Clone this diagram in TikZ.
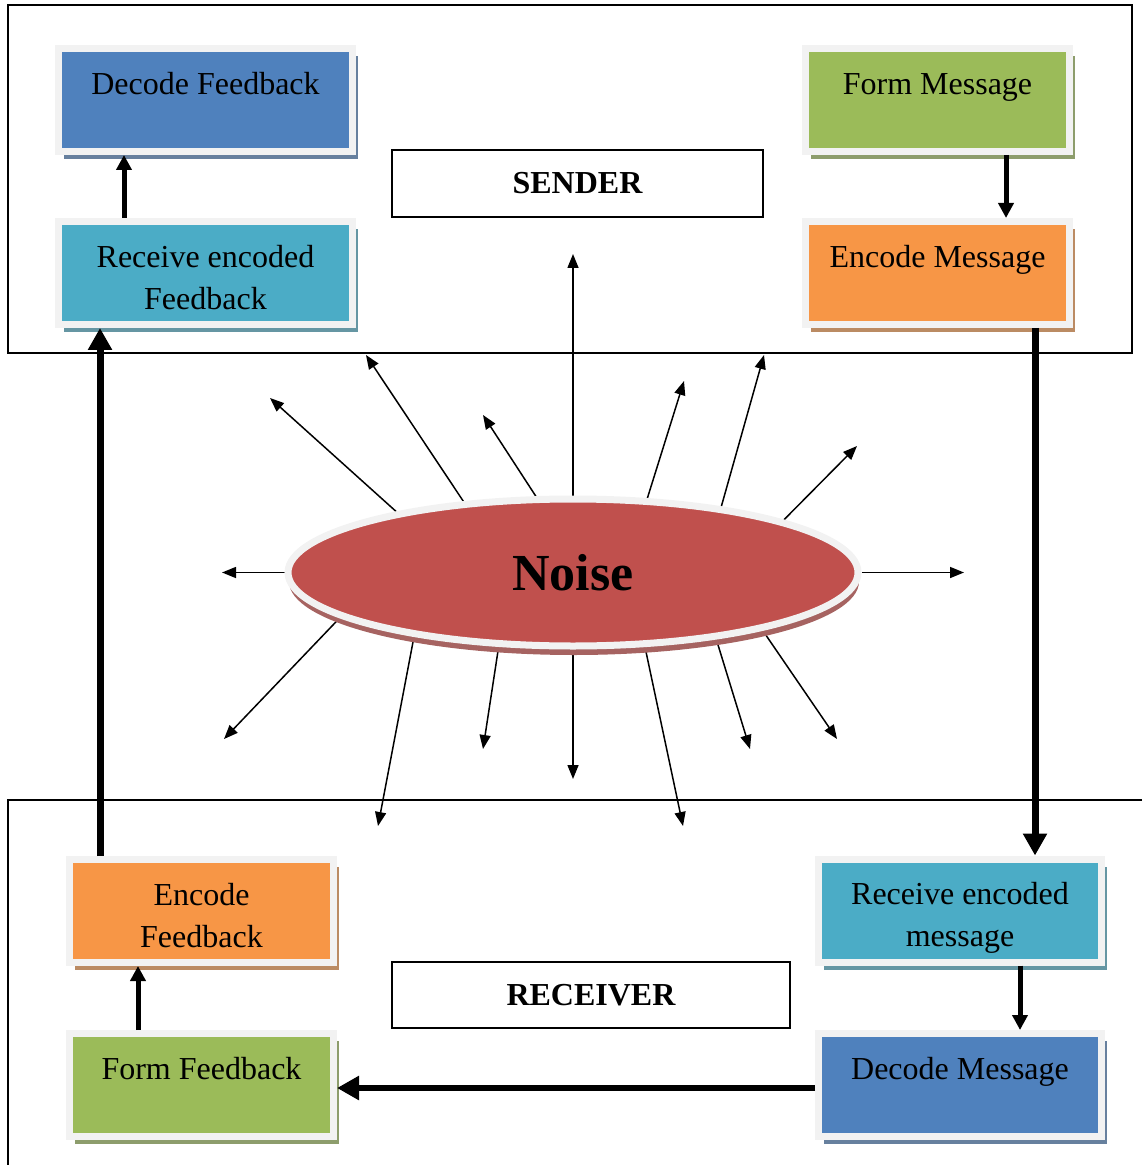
\documentclass[tikz,border=0pt]{standalone}
\usepackage{fontspec}
\setmainfont{Liberation Serif}
\usetikzlibrary{arrows.meta, positioning, shapes.geometric, shadows, backgrounds}
\definecolor{fbblue}{HTML}{4F81BD}
\definecolor{fbteal}{HTML}{4BACC6}
\definecolor{fbgreen}{HTML}{9BBB59}
\definecolor{fborange}{HTML}{F79646}
\definecolor{fbred}{HTML}{C0504D}
\definecolor{ringgray}{HTML}{F2F2F2}
\newcommand{\topstrut}{\rule{0pt}{21.7pt}}
\tikzset{
    stage/.style={rectangle, draw=ringgray, line width=3.5pt, fill=#1, inner sep=0pt,
        minimum height=51.5pt, align=center, font=\fontsize{16}{21}\selectfont,
        drop shadow={shadow xshift=2.75pt, shadow yshift=-3.75pt, fill=#1!50!gray, opacity=1}},
    side/.style={rectangle, draw, line width=1pt, inner sep=0pt,
        font=\fontsize{16}{20}\selectfont\bfseries},
    noise/.style={ellipse, draw=ringgray, line width=3.5pt, fill=fbred, inner sep=0pt,
        minimum width=285pt, minimum height=73.5pt, font=\fontsize{26}{30}\selectfont\bfseries,
        drop shadow={shadow xshift=0.5pt, shadow yshift=-4.5pt, fill=fbred!60!gray, opacity=1}},
    frame/.style={line width=1pt},
    noisy/.style={-{Triangle[length=7pt,width=5.5pt]}, line width=0.75pt},
    flow/.style={-{Triangle[length=7.5pt,width=7.5pt]}, line width=2.5pt},
    mainflow/.style={-{Triangle[length=11pt,width=11.5pt]}, line width=3.5pt}}

\begin{document}
\begin{tikzpicture}[x=0.5pt, y=-0.5pt]
\useasboundingbox (0,0) rectangle (1142,1165);
\draw[frame] (8,5) rectangle (1132,353);
\draw[frame] (1142,800) -| (8,1165);

\node[stage=fbblue, minimum width=147pt]     (decfb)   at (205.5,100)  {\topstrut Decode Feedback\\\strut};
\node[stage=fbteal, minimum width=147pt]     (recfb)   at (205.5,273)  {\topstrut Receive encoded\\\strut Feedback};
\node[stage=fbgreen, minimum width=132pt]    (formmsg) at (937.5,100)  {\topstrut Form Message\\\strut};
\node[stage=fborange, minimum width=132pt]   (encmsg)  at (937.5,273)  {\topstrut Encode Message\\\strut};
\node[stage=fborange, minimum width=132pt]   (encfb)   at (201.5,911)  {\topstrut Encode\\\strut Feedback};
\node[stage=fbgreen, minimum width=132pt]    (formfb)  at (201.5,1085) {\topstrut Form Feedback\\\strut};
\node[stage=fbteal, minimum width=141.5pt]   (recmsg)  at (960,910.5)  {\topstrut Receive encoded\\\strut message};
\node[stage=fbblue, minimum width=141.5pt]   (decmsg)  at (960,1085)   {\topstrut Decode Message\\\strut};

\node[side, minimum width=185.5pt, minimum height=33.5pt] (sender)   at (577.5,183.5) {SENDER};
\node[side, minimum width=199pt, minimum height=33pt]     (receiver) at (591,995)     {RECEIVER};

\node[noise] (noisy) at (573,572.5) {Noise};

\begin{scope}[on background layer]
\foreach \ang/\ex/\ey [count=\i] in {161.6/270/398, 147.4/366/355, 116.3/483/415, 90/573/254,
    45.4/684/381, 24/764/355, 14.2/857/446, 180/222/572.5, 0/964/572.5, 191.1/224/739,
    202.5/378/826, 225.4/483/749, 270/573/779, 314.6/683/826, 335.6/750/749, 343.5/837/739}
{
    \coordinate (hit\i) at (\ex,\ey);
    \draw[noisy] (noisy.\ang) -- (hit\i);
}
\end{scope}

\draw[flow] ([xshift=-40.75pt]recfb.north) -- ([xshift=-40.75pt]decfb.south);
\draw[flow] ([xshift=34.25pt]formmsg.south) -- ([xshift=34.25pt]encmsg.north);
\draw[mainflow] ([xshift=48.75pt]encmsg.south) -- ([xshift=48.75pt]encmsg.south |- recmsg.north);
\draw[flow] ([xshift=30pt]recmsg.south) -- ([xshift=30pt]decmsg.north);
\draw[mainflow, line width=3pt] ([yshift=-1.5pt]decmsg.west) -- ([yshift=-1.5pt]formfb.east);
\draw[flow] ([xshift=-31.75pt]formfb.north) -- ([xshift=-31.75pt]encfb.south);
\draw[mainflow] ([xshift=-50.75pt]encfb.north) -- ([xshift=-50.75pt]encfb.north |- recfb.south);
\end{tikzpicture}
\end{document}
